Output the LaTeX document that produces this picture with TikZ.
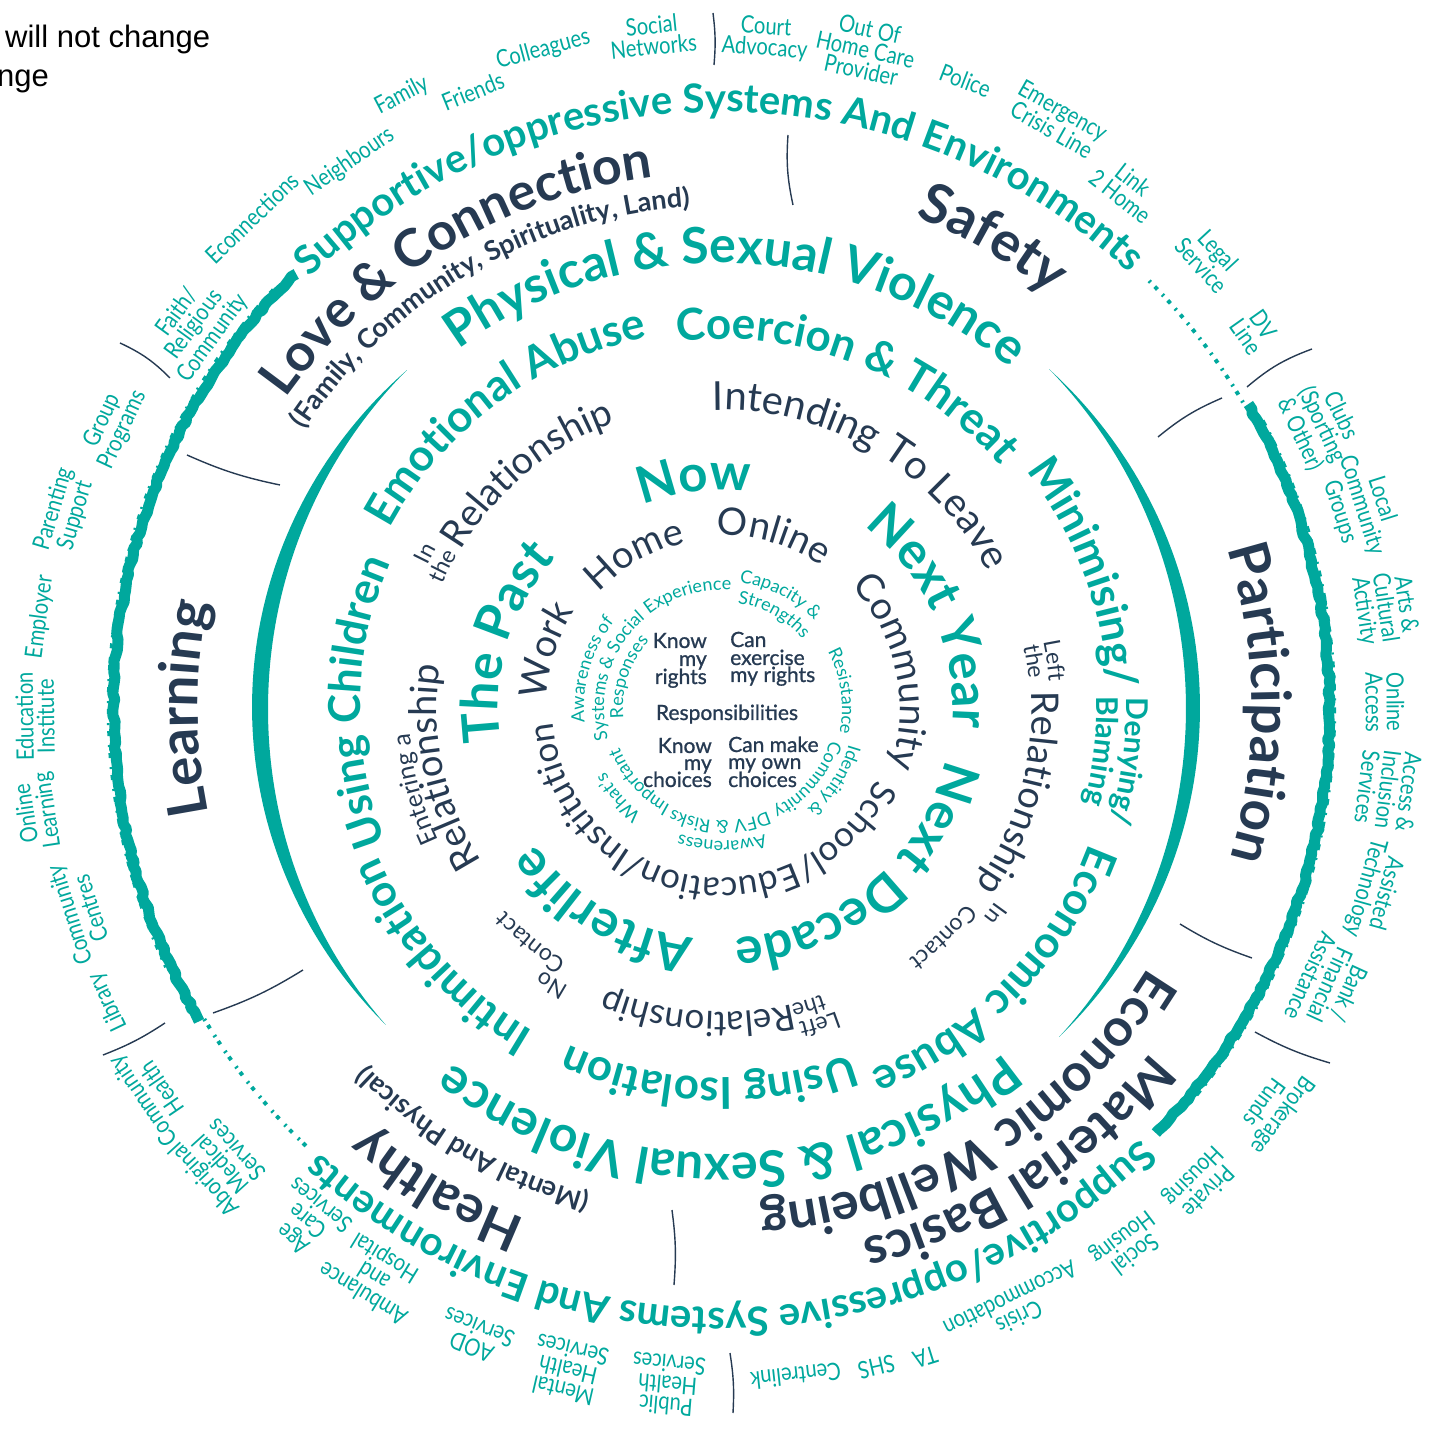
\documentclass[tikz,border=0pt]{standalone}
\usepackage{fontspec}
\setmainfont{Lato}
\newfontfamily\CF{Lato}[FakeStretch=0.84]
\newfontfamily\MF{Lato}[FakeBold=1]
\newfontfamily\AF{Liberation Sans}
\definecolor{tl}{RGB}{0,168,157}
\definecolor{nv}{RGB}{38,58,82}
\newcommand\Tl{\color{tl}}
\newcommand\Nv{\color{nv}}
\newcommand\fA{\fontsize{18}{18}\selectfont}
\newcommand\fB{\fontsize{38}{38}\selectfont}
\newcommand\fBs{\fontsize{35}{35}\selectfont}
\newcommand\fBB{\fontsize{40}{40}\selectfont}
\newcommand\fC{\fontsize{51}{51}\selectfont}
\newcommand\fD{\fontsize{44}{44}\selectfont}
\newcommand\fE{\fontsize{50}{50}\selectfont}
\newcommand\fF{\fontsize{40}{40}\selectfont}
\newcommand\fG{\fontsize{52}{52}\selectfont}
\newcommand\fGG{\fontsize{55}{55}\selectfont}
\newcommand\fH{\fontsize{27}{27}\selectfont}
\newcommand\fI{\fontsize{23}{23}\selectfont}
\newcommand\fIE{\fontsize{25}{25}\selectfont}
\newcommand\fJ{\fontsize{30}{30}\selectfont}
% curved text: centre angle, baseline radius, format, text (spaces as ~)
\ExplSyntaxOn
\fp_new:N \l_arc_ang_fp
\fp_new:N \l_arc_w_fp
\fp_new:N \l_arc_mid_fp
\fp_new:N \l_arc_tot_fp
\box_new:N \l_arc_box
\tl_new:N \l_arc_x_tl
\tl_new:N \l_arc_y_tl
\tl_new:N \l_arc_rot_tl
\NewDocumentCommand \arctext { m m m m }
 {
  \fp_zero:N \l_arc_tot_fp
  \tl_map_inline:nn { #4 }
   {
    \hbox_set:Nn \l_arc_box { \pgfinterruptpicture #3 ##1 \endpgfinterruptpicture }
    \fp_add:Nn \l_arc_tot_fp { \dim_to_fp:n { \box_wd:N \l_arc_box } }
   }
  \fp_set:Nn \l_arc_ang_fp { #1 + ( \l_arc_tot_fp / 2 ) / ( #2 ) * 57.2957795 }
  \tl_map_inline:nn { #4 }
   {
    \hbox_set:Nn \l_arc_box { \pgfinterruptpicture #3 ##1 \endpgfinterruptpicture }
    \fp_set:Nn \l_arc_w_fp { \dim_to_fp:n { \box_wd:N \l_arc_box } / ( #2 ) * 57.2957795 }
    \fp_set:Nn \l_arc_mid_fp { \l_arc_ang_fp - \l_arc_w_fp / 2 }
    \tl_set:Nx \l_arc_x_tl { \fp_eval:n { round( (#2) * cosd ( \l_arc_mid_fp ) , 3) } }
    \tl_set:Nx \l_arc_y_tl { \fp_eval:n { round( (#2) * sind ( \l_arc_mid_fp ) , 3) } }
    \tl_set:Nx \l_arc_rot_tl { \fp_eval:n { round( \l_arc_mid_fp - 90 , 3) } }
    \node [ inner~sep=0pt, anchor=base, rotate=\l_arc_rot_tl ] at ( \l_arc_x_tl , \l_arc_y_tl ) { #3 ##1 } ;
    \fp_sub:Nn \l_arc_ang_fp { \l_arc_w_fp }
   }
 }
\ExplSyntaxOff
% outer label: name, angle, radius, text
\newcommand\olab[4]{\node[olab,rotate=#2-90] (#1) at (#2:#3) {#4};}
\tikzset{
  olab/.style={text=tl,font=\CF\fontsize{24}{21}\selectfont,align=center,inner sep=0pt},
  ctr/.style={text=nv,font=\MF\fontsize{21}{21}\selectfont,inner sep=0pt},
  sep/.style={draw=nv,line width=1.4pt},
}
\begin{document}
\begin{tikzpicture}[x=1pt,y=1pt]
\useasboundingbox (-722,-723) rectangle (715,708);
\pgfmathsetseed{7}
% header fragment
\node[anchor=base west,inner sep=0pt,font=\AF\fontsize{31}{31}\selectfont] (hdr1) at (-717,660) {will not change};
\node[anchor=base west,inner sep=0pt,font=\AF\fontsize{31}{31}\selectfont] (hdr2) at (-725,621) {nge};

% centre texts
\node[ctr,anchor=base east] (c1) at (-15,60) {Know};
\node[ctr,anchor=base east] (c2) at (-15,42) {my};
\node[ctr,anchor=base east] (c3) at (-15,24) {rights};
\node[ctr,anchor=base west] (c4) at (8,61) {Can};
\node[ctr,anchor=base west] (c5) at (8,43) {exercise};
\node[ctr,anchor=base west] (c6) at (8,26) {my rights};
\node[ctr,anchor=base] (c7) at (5,-12) {Responsibilities};
\node[ctr,anchor=base east] (c8) at (-10,-45) {Know};
\node[ctr,anchor=base east] (c9) at (-10,-62) {my};
\node[ctr,anchor=base east] (c10) at (-10,-79) {choices};
\node[ctr,anchor=base west] (c11) at (6,-44) {Can make};
\node[ctr,anchor=base west] (c12) at (6,-61) {my own};
\node[ctr,anchor=base west] (c13) at (6,-79) {choices};

% ring 1
\arctext{106.8}{118}{\Tl\fA}{Experience}
\arctext{62.7}{127}{\Tl\fA}{Capacity~\&}
\arctext{61}{106}{\Tl\fA}{Strengths}
\arctext{8.1}{120}{\Tl\fA}{Resistance}
\arctext{-33}{132}{\Tl\fA}{Identity~\&}
\arctext{-40}{113}{\Tl\fA}{Community}
\arctext{-90}{133}{\Tl\fA}{Awareness}
\arctext{-91}{113}{\Tl\fA}{DFV~\&~Risks}
\arctext{-139.3}{133}{\Tl\fA}{What's}
\arctext{-138.5}{110}{\Tl\fA}{Important}
\arctext{163.6}{138}{\Tl\fA}{Awareness~of}
\arctext{163}{118}{\Tl\fA}{Systems~\&~Social}
\arctext{161.6}{99}{\Tl\fA}{Responses}

% ring 2
\arctext{119.7}{169}{\Nv\fB}{Home}
\arctext{73.4}{173}{\Nv\fB}{Online}
\arctext{12}{178}{\Nv\fB}{Community}
\arctext{-100}{170}{\Nv\fBs}{School/Education/Institution}
\arctext{162}{176}{\Nv\fB}{Work}

% ring 3
\arctext{97}{218}{\Tl\bfseries\fC}{Now}
\arctext{23.6}{231}{\Tl\bfseries\fC}{Next~Year}
\arctext{-50}{230}{\Tl\bfseries\fC}{Next~Decade}
\arctext{-120.5}{232}{\Tl\bfseries\fC}{Afterlife}
\arctext{163.4}{224}{\Tl\bfseries\fC}{The~Past}

% ring 4
\arctext{59.4}{298}{\Nv\fBB}{Intending~To~Leave}
\arctext{152.5}{327}{\Nv\fI}{In}
\arctext{153}{306}{\Nv\fI}{the}
\arctext{129.7}{305}{\Nv\fB}{Relationship}
\arctext{8.1}{328}{\Nv\fI}{Left}
\arctext{8.5}{308}{\Nv\fI}{the}
\arctext{-16}{310}{\Nv\fB}{Relationship}
\arctext{-37}{335}{\Nv\fI}{In}
\arctext{-46}{313}{\Nv\fI}{Contact}
\arctext{-72.8}{324}{\Nv\fI}{Left}
\arctext{-73.8}{304}{\Nv\fI}{the}
\arctext{-94.5}{304}{\Nv\fBs}{Relationship}
\arctext{-121.6}{318}{\Nv\fI}{No}
\arctext{-129.2}{297}{\Nv\fI}{Contact}
\arctext{194.8}{313}{\Nv\fIE}{Entering~a}
\arctext{192}{285}{\Nv\fB}{Relationship}

% ring 5
\arctext{69}{369}{\Tl\bfseries\fD}{Coercion~\&~Threat}
\arctext{126.5}{378}{\Tl\bfseries\fD}{Emotional~Abuse}
\arctext{179}{362}{\Tl\bfseries\fD}{Using~Children}
\arctext{-138.5}{374}{\Tl\bfseries\fD}{Intimidation}
\arctext{-92}{370}{\Tl\bfseries\fD}{Using~Isolation}
\arctext{-44}{392}{\Tl\bfseries\fD}{Economic~Abuse}
\arctext{20.5}{386}{\Tl\bfseries\fD}{Minimising/}
\arctext{-7.5}{404}{\Tl\bfseries\fJ}{Denying/}
\arctext{-6.5}{375}{\Tl\bfseries\fJ}{Blaming}

% physical & sexual violence ring
\arctext{88}{445}{\Tl\bfseries\fE}{Physical~\&~Sexual~Violence}
\arctext{-89}{446}{\Tl\bfseries\fE}{Physical~\&~Sexual~Violence}
\fill[tl] plot[domain=0:1,samples=90,variable=\t] ({(462+8*sin(180*\t))*cos(133+90.3*\t)},{(462+8*sin(180*\t))*sin(133+90.3*\t)}) -- plot[domain=1:0,samples=90,variable=\t] ({(462-8*sin(180*\t))*cos(133+90.3*\t)},{(462-8*sin(180*\t))*sin(133+90.3*\t)}) -- cycle;
\fill[tl] plot[domain=0:1,samples=90,variable=\t] ({(471+7*sin(180*\t))*cos(46-90.3*\t)},{(471+7*sin(180*\t))*sin(46-90.3*\t)}) -- plot[domain=1:0,samples=90,variable=\t] ({(471-7*sin(180*\t))*cos(46-90.3*\t)},{(471-7*sin(180*\t))*sin(46-90.3*\t)}) -- cycle;

% domains
\arctext{121}{535}{\Nv\bfseries\fG}{Love~\&~Connection}
\arctext{120}{502}{\Nv\bfseries\fH}{(Family,~Community,~Spirituality,~Land)}
\arctext{60}{528}{\Nv\bfseries\fGG}{Safety}
\arctext{0.5}{530}{\Nv\bfseries\fGG}{Participation}
\arctext{-57}{550}{\Nv\bfseries\fG}{Material~Basics}
\arctext{-58.5}{499}{\Nv\bfseries\fG}{Economic~Wellbeing}
\arctext{-120.6}{548}{\Nv\bfseries\fG}{Healthy}
\arctext{-120}{504}{\Nv\bfseries\fH}{(Mental~And~Physical)}
\arctext{180}{524}{\Nv\bfseries\fGG}{Learning}

% supportive / oppressive ring
\arctext{90.3}{596}{\Tl\bfseries\fF}{Supportive/oppressive~Systems~And~Environments}
\arctext{-89}{600}{\Tl\bfseries\fF}{Supportive/oppressive~Systems~And~Environments}
\draw[tl,line width=11pt,line join=round] plot[domain=134.5:211,samples=150,variable=\a] ({(607+3.2*rnd)*cos(\a)},{(607+3.2*rnd)*sin(\a)});
\draw[tl,line width=11pt,line join=round] plot[domain=30:-44.5,samples=150,variable=\a] ({(606+3.2*rnd)*cos(\a)},{(606+3.2*rnd)*sin(\a)});
\draw[tl,line width=2.5pt,dash pattern=on 5pt off 9pt on 2pt off 6pt] (137:614) arc[start angle=137,end angle=205,radius=614];
\draw[tl,line width=2.5pt,dash pattern=on 6pt off 8pt on 2pt off 7pt] (28:613) arc[start angle=28,end angle=-40,radius=613];
\draw[tl,line width=4pt,dash pattern=on 2pt off 5pt on 4pt off 8pt] (211:604) arc[start angle=211,end angle=227,radius=604];
\draw[tl,line width=4pt,dash pattern=on 2pt off 6pt on 4pt off 7pt] (45:604) arc[start angle=45,end angle=30,radius=604];

% separators
\begin{scope}[shift={(-722,708)},yscale=-1]
\draw[sep] (788,135) to[bend left=8] (793,205);
\draw[sep] (1158,437) to[bend right=8] (1222,398);
\draw[sep] (1180,924) to[bend left=6] (1252,958);
\draw[sep] (672,1210) to[bend right=6] (674,1285);
\draw[sep] (213,1013) to[bend left=6] (303,970);
\draw[sep] (187,455) to[bend left=6] (280,485);
\draw[sep] (713,13) to[bend right=6] (714,65);
\draw[sep] (1247,387) to[bend right=10] (1312,349);
\draw[sep] (1255,1032) to[bend left=6] (1330,1063);
\draw[sep] (730,1353) to[bend right=6] (733,1413);
\draw[sep] (103,1055) to[bend left=6] (165,1023);
\draw[sep] (120,343) to[bend right=10] (170,378);
\end{scope}

% outer labels
\olab{o1}{105.2}{682}{Colleagues}
\olab{o2}{95.9}{676}{Social\\Networks}
\olab{o3}{86.3}{671}{Court\\Advocacy}
\olab{o4}{77.7}{674}{Out Of\\Home Care\\Provider}
\olab{o5}{68.8}{673}{Police}
\olab{o6}{60.3}{677}{Emergency\\Crisis Line}
\olab{o7}{52.1}{659}{Link\\2 Home}
\olab{o8}{42.7}{664}{Legal\\Service}
\olab{o9}{35.3}{653}{DV\\Line}
\olab{o10}{25.3}{662}{Clubs\\(Sporting\\\& Other)}
\olab{o11}{17.6}{670}{Local\\Community\\Groups}
\olab{o12}{8.6}{670}{Arts \&\\Cultural\\Activity}
\olab{o13}{0.5}{663}{Online\\Access}
\olab{o14}{-7}{671}{Access \&\\Inclusion\\Services}
\olab{o15}{-15.6}{678}{Assisted\\Technology}
\olab{o16}{-24.5}{668}{Bank /\\Financial\\Assistance}
\olab{o17}{-36}{683}{Brokerage\\Funds}
\olab{o18}{-44.8}{674}{Private\\Housing}
\olab{o19}{-52.9}{673}{Social\\Housing}
\olab{o20}{-64}{668}{Crisis\\Accommodation}
\olab{o21}{-72.6}{680}{TA}
\olab{o22}{-76.8}{677}{SHS}
\olab{o23}{-83.7}{672}{Centrelink}
\olab{o24}{-94.6}{679}{Public\\Health\\Services}
\olab{o25}{-103.1}{680}{Mental\\Health\\Services}
\olab{o26}{-111.4}{676}{AOD\\Services}
\olab{o27}{-121.5}{665}{Ambulance\\and\\Hospital}
\olab{o28}{-128.9}{661}{Age\\Care\\Services}
\olab{o29}{-137.7}{679}{Aboriginal\\Medical\\Services}
\olab{o30}{-145.8}{689}{Community\\Health}
\olab{o31}{-154.4}{681}{Library}
\olab{o32}{-162.4}{674}{Community\\Centres}
\olab{o33}{-171.4}{692}{Online\\Learning}
\olab{o34}{-179.3}{687}{Education\\Institute}
\olab{o35}{172.4}{688}{Employer}
\olab{o36}{163.4}{686}{Parenting\\Support}
\olab{o37}{155.1}{672}{Group\\Programs}
\olab{o38}{144}{651}{Faith/\\Religious\\Community}
\olab{o39}{133.8}{679}{Econnections}
\olab{o40}{124.3}{661}{Neighbours}
\olab{o41}{117.6}{691}{Family}
\olab{o42}{112}{665}{Friends}
\end{tikzpicture}
\end{document}
